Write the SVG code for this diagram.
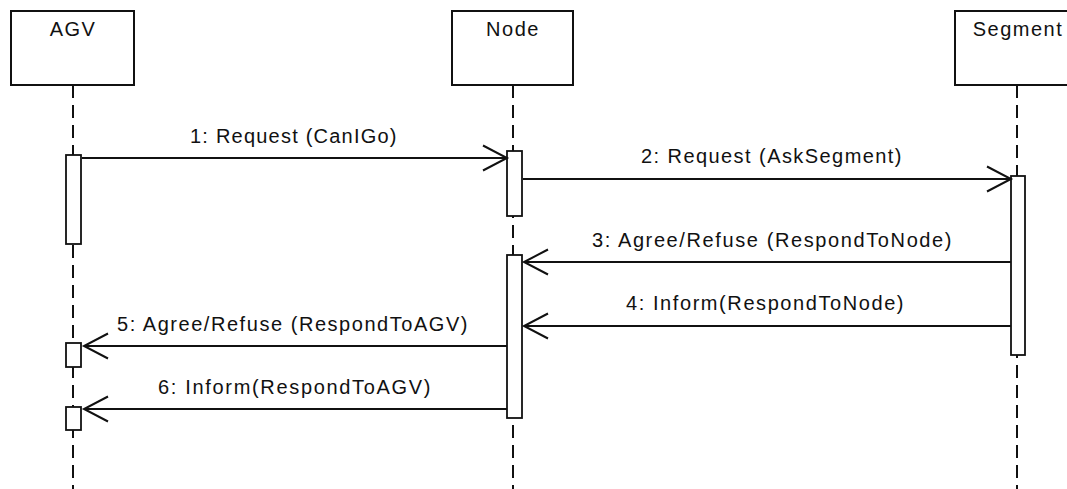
<svg xmlns="http://www.w3.org/2000/svg" width="1067" height="489" viewBox="0 0 1067 489">
<style>
.box{fill:#fff;stroke:#111;stroke-width:2}
.life{stroke:#111;stroke-width:2;stroke-dasharray:13 7;fill:none}
.act{fill:#fff;stroke:#111;stroke-width:1.8}
.msg{stroke:#111;stroke-width:2;fill:none;marker-end:url(#open)}
.t{font-family:"Liberation Sans",Arial,sans-serif;font-size:20px;letter-spacing:1.5px;fill:#111}
.title{text-anchor:middle}
</style>
<defs>
<marker id="open" markerUnits="userSpaceOnUse" viewBox="-28 -15 31 30" refX="0" refY="0" markerWidth="31" markerHeight="30" orient="auto">
<path d="M-24,-12.5 L0,0 L-24,12.5" fill="none" stroke="#111" stroke-width="2"/>
</marker>
</defs>
<rect width="1067" height="489" fill="#fff"/>
<g id="lifelines">
<line class="life" x1="73" y1="85" x2="73" y2="489"/>
<line class="life" x1="513" y1="85" x2="513" y2="489"/>
<line class="life" x1="1017" y1="85" x2="1017" y2="489"/>
</g>
<g id="AGV">
<rect class="box" x="11" y="11" width="123" height="74"/>
<text class="t title" x="73" y="36">AGV</text>
</g>
<g id="Node">
<rect class="box" x="452" y="11" width="121" height="74"/>
<text class="t title" x="513" y="36">Node</text>
</g>
<g id="Segment">
<rect class="box" x="955" y="11" width="124" height="74"/>
<text class="t title" x="1018" y="36">Segment</text>
</g>
<g id="activations">
<rect class="act" x="66" y="155" width="15" height="89"/>
<rect class="act" x="507" y="151" width="15" height="65"/>
<rect class="act" x="507" y="255" width="15" height="163"/>
<rect class="act" x="1011" y="176" width="14" height="179"/>
<rect class="act" x="66" y="343" width="15" height="24"/>
<rect class="act" x="66" y="407" width="15" height="23"/>
</g>
<g id="connectors">
<line class="msg" x1="82" y1="158" x2="507" y2="158"/>
<line class="msg" x1="523" y1="179" x2="1011" y2="179"/>
<line class="msg" x1="1011" y1="262" x2="524" y2="262"/>
<line class="msg" x1="1011" y1="326" x2="524" y2="326"/>
<line class="msg" x1="507" y1="346" x2="84" y2="346"/>
<line class="msg" x1="507" y1="409" x2="84" y2="409"/>
</g>
<g id="labels">
<text class="t" x="190" y="143" textLength="208" lengthAdjust="spacing">1: Request (CanIGo)</text>
<text class="t" x="641" y="163" textLength="262" lengthAdjust="spacing">2: Request (AskSegment)</text>
<text class="t" x="592" y="247" textLength="361" lengthAdjust="spacing">3: Agree/Refuse (RespondToNode)</text>
<text class="t" x="626" y="310" textLength="279" lengthAdjust="spacing">4: Inform(RespondToNode)</text>
<text class="t" x="117" y="331" textLength="352" lengthAdjust="spacing">5: Agree/Refuse (RespondToAGV)</text>
<text class="t" x="158" y="394" textLength="274" lengthAdjust="spacing">6: Inform(RespondToAGV)</text>
</g>
</svg>
